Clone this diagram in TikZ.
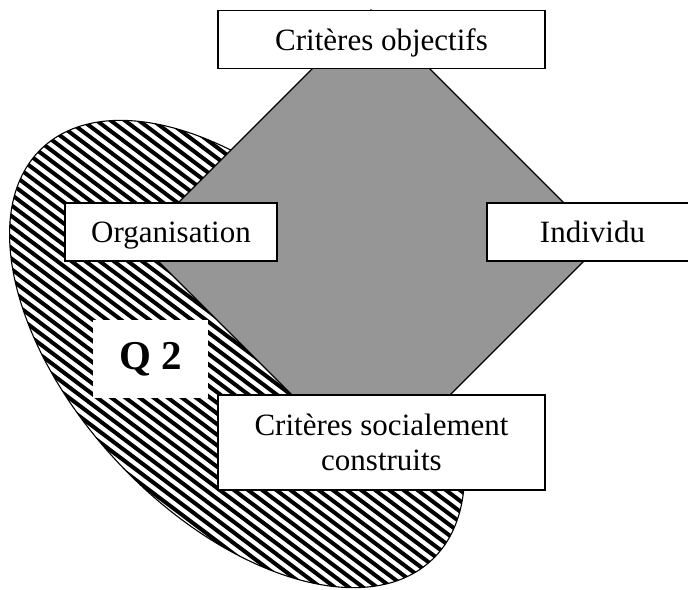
\documentclass[tikz,border=0pt]{standalone}
\usepackage{fontspec}
\setmainfont{Liberation Serif}
\definecolor{diamondgray}{RGB}{150,150,150}
\begin{document}
\begin{tikzpicture}[x=1pt,y=-1pt,
  labelbox/.style={draw=black, line width=1.4pt, fill=white, inner sep=0pt,
    font=\fontsize{31}{35}\selectfont, align=center},
  onelinebox/.style={labelbox, text depth=0pt},
  hatchline/.style={line width=4pt, black},
  outline/.style={draw=black, line width=1.1pt}]
\useasboundingbox (0,0) rectangle (688,589);
% hatched ellipse
\begin{scope}
  \clip[shift={(237,354)}, rotate=-46.5] (0,0) ellipse [x radius=283.5pt, y radius=161pt];
  \fill[white] (0,0) rectangle (688,589);
  \begin{scope}[shift={(237,354)}, rotate=-37]
    \foreach \k in {-45,...,45} \draw[hatchline] (-420,\k*8.5) -- (420,\k*8.5);
  \end{scope}
\end{scope}
\draw[outline, shift={(237,354)}, rotate=-46.5] (0,0) ellipse [x radius=283.5pt, y radius=161pt];
% gray diamond
\draw[outline, fill=diamondgray] (371,10) -- (603,242) -- (371,474) -- (139,242) -- cycle;
% Q2 label
\node[fill=white, inner sep=0pt, minimum width=115pt, minimum height=78pt,
  font=\fontsize{41}{45}\selectfont\bfseries] (q2) at (150.5,359) {Q 2};
% boxes
\node[onelinebox, minimum width=327pt, minimum height=58pt] (obj) at (381.5,39.5) {Critères objectifs};
\node[onelinebox, minimum width=212pt, minimum height=58pt] (org) at (171,232) {Organisation};
\node[onelinebox, minimum width=211pt, minimum height=58pt] (ind) at (592.5,232) {Individu};
\node[labelbox, minimum width=327pt, minimum height=95pt] (soc) at (381.5,442.5) {Critères socialement\\construits};
\end{tikzpicture}
\end{document}
